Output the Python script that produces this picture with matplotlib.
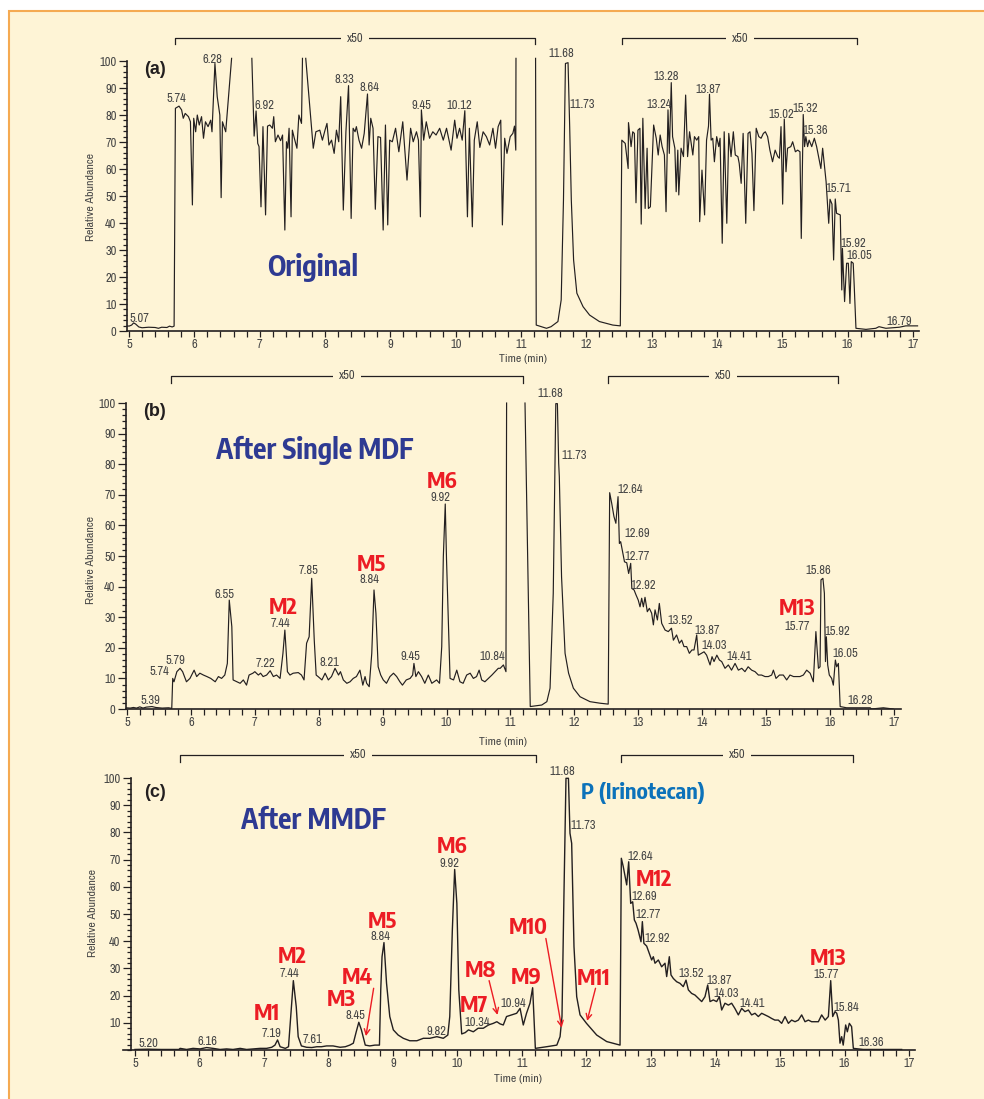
import numpy as np
import matplotlib
matplotlib.use('Agg')
import matplotlib.pyplot as plt
import matplotlib.transforms as mtrans
from matplotlib.ticker import MultipleLocator
from matplotlib.patches import Rectangle

nan = float('nan')

# ---- data (retention time in min, relative abundance as displayed) ----
a_time = [4.98, 5.00, 5.04, 5.07, 5.10, 5.15, 5.20, 5.30, 5.40, 5.45, 5.50, 5.58, 5.62, 5.66, 5.69,
          5.71, 5.765, 5.805, 5.83, 5.86, 5.91, 5.94, 5.97, 5.99, 6.02, 6.045, 6.075, 6.11, 6.14, 6.17, 6.21, 6.25, 6.27,
          6.315, 6.35, 6.39, 6.41, 6.43, 6.48, 6.57, 6.72, 6.88,
          6.915, 6.945, 6.97, 6.99, 7.02, 7.05, 7.09, 7.12, 7.155, 7.195, 7.215, 7.24, 7.28, 7.32, 7.35, 7.385, 7.41, 7.43, 7.45, 7.48,
          7.50, 7.53, 7.57, 7.60, 7.64, 7.655, 7.68, 7.705, 7.82, 7.86, 7.92, 7.96, 8.00, 8.03, 8.06, 8.10, 8.14, 8.175, 8.21,
          8.24, 8.28, 8.32, 8.36, 8.40, 8.43, 8.46, 8.48, 8.52, 8.56, 8.60, 8.65, 8.675, 8.70, 8.735, 8.77, 8.81, 8.85, 8.89, 8.925, 8.96, 8.99,
          9.03, 9.08, 9.13, 9.19, 9.255, 9.31, 9.35, 9.40, 9.43, 9.46, 9.475, 9.51, 9.55, 9.60, 9.65, 9.70, 9.755, 9.81, 9.86, 9.93, 9.985,
          10.02, 10.06, 10.10, 10.14, 10.18, 10.21, 10.255, 10.285, 10.33, 10.37, 10.42, 10.47, 10.52, 10.57, 10.61, 10.65, 10.69, 10.715, 10.75, 10.785, 10.835, 10.875, 10.90, 10.92, 10.923,
          11.07, 11.223, 11.233, 11.31, 11.39, 11.46, 11.565, 11.615, 11.65, 11.68, 11.72, 11.74, 11.745, 11.77, 11.805, 11.855, 11.95, 12.05, 12.20, 12.405, 12.52,
          12.543, 12.595, 12.64, 12.645, 12.685, 12.71, 12.735, 12.76, 12.79, 12.82, 12.84, 12.865, 12.90, 12.93, 12.95, 12.98, 13.03, 13.07, 13.10, 13.13, 13.16, 13.195,
          13.22, 13.25, 13.27, 13.30, 13.32, 13.355, 13.375, 13.40, 13.415, 13.45, 13.487, 13.52, 13.55, 13.58, 13.63, 13.655, 13.69, 13.72, 13.735, 13.77, 13.81, 13.84, 13.87, 13.885,
          13.91, 13.935, 13.96, 13.995, 14.027, 14.047, 14.08, 14.11, 14.15, 14.18, 14.215, 14.25, 14.28, 14.32, 14.34, 14.37, 14.40, 14.44, 14.475, 14.505, 14.535, 14.565, 14.60,
          14.64, 14.675, 14.71, 14.74, 14.775, 14.81, 14.85, 14.89, 14.93, 14.955, 14.98, 15.005, 15.03, 15.056, 15.08, 15.13, 15.158, 15.20, 15.235, 15.27, 15.29, 15.32,
          15.34, 15.36, 15.387, 15.41, 15.45, 15.49, 15.525, 15.565, 15.59, 15.617, 15.67, 15.71, 15.73, 15.76, 15.785, 15.81, 15.83, 15.887, 15.91, 15.92, 15.953, 15.984, 16.01, 16.035, 16.055, 16.085, 16.10, 16.127,
          16.28, 16.43, 16.48, 16.585, 16.69, 16.79, 16.89, 17.07]
a_abund = [1.9, 1.8, 2.2, 3.0, 2.6, 1.5, 1.2, 1.4, 1.3, 1.0, 1.4, 1.3, 1.8, 1.5, 1.8,
           82.5, 83.3, 81.9, 78.8, 80.6, 79.4, 77.5, 46.7, 78.8, 73.8, 80.0, 76.3, 79.4, 71.4, 77.5, 75.7, 78.1, 73.8,
           99.1, 86.8, 80.0, 49.4, 77.5, 73.8, 101, nan, 101,
           72.2, 81.5, 69.5, 68.3, 46.0, 75.7, 43.0, 75.9, 76.3, 75.1, 79.4, 70.1, 72.6, 70.5, 72.6, 37.4, 70.1, 67.7, 75.1, 42.3,
           74.4, 71.4, 67.7, 80.0, 76.9, 101, nan, 101, 67.7, 73.8, 74.4, 70.7, 74.4, 76.9, 68.9, 70.7, 65.8, 74.4, 70.1,
           86.8, 44.8, 73.8, 90.9, 41.7, 75.1, 73.8, 75.7, 70.7, 67.7, 73.2, 87.8, 68.9, 78.8, 75.1, 45.1, 72.0, 71.7, 37.4, 76.3, 39.3, 70.7,
           70.1, 75.1, 66.4, 77.5, 55.9, 75.1, 70.1, 73.8, 70.7, 42.3, 81.9, 70.7, 77.5, 71.4, 73.8, 72.6, 75.1, 70.7, 75.1, 67.0, 78.1,
           71.4, 75.1, 70.7, 81.6, 42.3, 75.1, 38.6, 70.7, 77.5, 68.0, 73.8, 72.0, 68.9, 75.1, 67.7, 75.7, 78.1, 39.3, 71.4, 65.8, 72.0, 73.2, 75.9, 67.0, 101,
           nan, 101, 2.2, 1.6, 1.0, 1.6, 3.5, 11.5, 48.5, 99.1, 99.4, 80.0, 75.7, 48.5, 26.3, 14.0, 9.0, 5.9, 3.5, 2.2, 1.9,
           70.7, 69.5, 60.2, 77.2, 68.3, 73.8, 73.2, 47.5, 74.4, 75.1, 39.6, 78.8, 45.4, 67.7, 45.4, 46.0, 76.3, 71.4, 65.2, 72.6, 68.3, 65.2,
           44.2, 81.9, 65.8, 92.0, 72.0, 67.7, 51.6, 67.0, 50.4, 67.7, 64.6, 87.4, 64.6, 73.8, 65.2, 72.0, 70.7, 72.0, 40.5, 59.6, 43.0, 70.7, 75.9, 87.7,
           70.7, 71.4, 62.7, 72.0, 68.3, 71.4, 32.5, 73.8, 39.9, 73.2, 64.6, 73.8, 65.2, 64.6, 62.1, 54.7, 73.2, 39.9, 73.2, 73.8, 65.8, 44.6, 75.1,
           72.0, 71.4, 73.2, 73.8, 72.0, 67.0, 62.7, 67.0, 64.6, 64.0, 75.7, 47.0, 78.5, 59.0, 67.7, 68.3, 70.1, 66.4, 67.0, 66.4, 34.3, 80.2,
           68.3, 72.0, 68.3, 70.7, 68.3, 71.4, 68.3, 63.3, 60.2, 67.7, 55.3, 39.9, 48.8, 47.0, 26.3, 48.9, 43.6, 43.0, 15.2, 30.6, 10.9, 25.1, 25.1, 10.2, 25.7, 25.1, 17.0, 1.0,
           0.6, 1.0, 1.6, 1.0, 1.2, 1.4, 1.9, 1.9]

b_time = [4.98, 5.05, 5.10, 5.15, 5.20, 5.25, 5.30, 5.39, 5.45, 5.55, 5.65, 5.70,
          5.715, 5.735, 5.78, 5.83, 5.87, 5.93, 5.985, 6.05, 6.09, 6.14, 6.195, 6.25, 6.31, 6.38, 6.43, 6.48, 6.53, 6.57, 6.60, 6.64, 6.66,
          6.72, 6.77, 6.82, 6.87, 6.91, 6.97, 7.00, 7.055, 7.09, 7.13, 7.185, 7.24, 7.29, 7.34, 7.395, 7.44, 7.47, 7.51, 7.55, 7.60, 7.68, 7.73, 7.77,
          7.81, 7.85, 7.89, 7.93, 7.96, 7.99, 8.05, 8.10, 8.15, 8.20, 8.255, 8.31, 8.34, 8.385, 8.44, 8.49, 8.54, 8.59, 8.645, 8.69, 8.725, 8.75, 8.79,
          8.83, 8.865, 8.895, 8.93, 8.97, 9.01, 9.06, 9.115, 9.17, 9.22, 9.27, 9.31, 9.37, 9.43, 9.47, 9.49, 9.52, 9.56, 9.61, 9.66, 9.715, 9.77, 9.845, 9.89,
          9.925, 9.95, 9.98, 10.00, 10.055, 10.11, 10.16, 10.21, 10.26, 10.315, 10.37, 10.42, 10.47, 10.51, 10.55, 10.60, 10.655, 10.71, 10.76, 10.81, 10.84, 10.89, 10.93, 10.94,
          11.08, 11.228, 11.31, 11.385, 11.49, 11.57, 11.62, 11.67, 11.71, 11.735, 11.755, 11.765, 11.80, 11.855, 11.91, 11.985, 12.09, 12.245, 12.40, 12.53,
          12.553, 12.585, 12.62, 12.65, 12.684, 12.705, 12.725, 12.76, 12.785, 12.82, 12.85, 12.882, 12.90, 12.935, 12.965, 13.00, 13.028, 13.054, 13.08, 13.106, 13.142, 13.174, 13.21,
          13.237, 13.263, 13.30, 13.33, 13.367, 13.42, 13.47, 13.52, 13.55, 13.60, 13.644, 13.68, 13.716, 13.758, 13.80, 13.84, 13.873, 13.915, 13.94, 13.99, 14.03, 14.07,
          14.124, 14.155, 14.186, 14.23, 14.27, 14.306, 14.358, 14.41, 14.46, 14.515, 14.567, 14.62, 14.67, 14.72, 14.775, 14.828, 14.88, 14.93, 14.984, 15.036, 15.088, 15.115, 15.156,
          15.21, 15.27, 15.323, 15.375, 15.43, 15.48, 15.53, 15.584, 15.636, 15.69, 15.74, 15.78, 15.82, 15.845, 15.86, 15.89, 15.913, 15.93, 15.944, 15.965, 15.99, 16.027, 16.053, 16.085, 16.106, 16.132, 16.16,
          16.26, 16.63, 16.65, 16.835, 16.99]
b_abund = [0.4, 0.3, 0.5, 0.3, 0.7, 0.3, 0.6, 0.8, 0.5, 0.3, 0.4, 0.2,
           10.0, 8.9, 12.2, 13.3, 12.2, 8.9, 10.0, 12.7, 10.6, 11.7, 11.1, 10.6, 10.0, 8.9, 10.6, 10.0, 11.1, 14.9, 35.6, 26.9, 9.5,
           8.9, 8.4, 9.5, 7.8, 11.1, 11.7, 12.2, 11.1, 11.7, 10.6, 11.1, 12.5, 10.6, 11.1, 10.0, 18.2, 25.8, 12.2, 11.1, 11.7, 11.9, 11.1, 9.5,
           21.5, 23.6, 42.7, 22.5, 11.1, 10.6, 9.5, 11.7, 9.5, 10.6, 13.3, 11.1, 12.2, 9.5, 8.4, 8.9, 10.0, 10.6, 12.7, 7.8, 10.6, 8.4, 7.3,
           18.2, 38.9, 31.3, 13.8, 11.1, 9.5, 8.4, 10.6, 11.7, 10.6, 8.9, 7.8, 9.5, 10.0, 11.1, 14.9, 10.6, 12.2, 10.6, 8.4, 11.1, 8.4, 9.5, 8.4,
           20.4, 49.8, 67.0, 48.7, 10.0, 9.5, 12.7, 8.9, 8.4, 11.1, 11.7, 10.0, 10.6, 12.7, 9.5, 8.9, 10.0, 11.1, 12.2, 13.3, 13.3, 14.4, 12.2, 100,
           nan, 100, 0.8, 1.0, 1.3, 2.4, 6.8, 37.8, 99.8, 99.8, 80.3, 75.9, 43.2, 18.2, 11.7, 6.8, 4.0, 2.4, 1.9, 1.6,
           70.7, 67.2, 62.9, 60.7, 69.4, 54.1, 54.7, 50.9, 48.1, 47.8, 44.3, 47.6, 39.4, 38.9, 37.3, 35.6, 33.4, 36.2, 33.4, 36.5, 31.8, 32.9, 31.3,
           27.5, 32.4, 29.1, 34.5, 28.0, 25.8, 25.3, 26.4, 22.5, 24.2, 21.5, 22.5, 20.4, 20.4, 18.2, 19.3, 19.3, 24.2, 17.6, 18.2, 18.7, 17.6,
           14.4, 17.1, 15.5, 17.6, 16.0, 15.5, 13.3, 14.4, 12.7, 14.9, 12.7, 13.3, 12.2, 13.8, 12.7, 12.2, 11.1, 11.1, 10.6, 10.6, 11.1, 12.7, 10.0,
           11.1, 11.1, 9.5, 11.1, 10.6, 10.6, 10.6, 11.1, 12.7, 11.7, 8.9, 25.3, 13.3, 13.8, 42.2, 42.7, 37.8, 15.5, 23.6, 14.4, 11.1, 10.0, 7.8, 16.0, 13.8, 14.9, 0.8,
           0.4, 0.4, 0.0, 0.4, 0.0]

c_time = [5.00, 5.20, 5.40, 5.60, 5.68, 5.70, 5.80, 5.90, 6.01, 6.11, 6.21, 6.32, 6.42, 6.52, 6.63, 6.73, 6.83, 6.94, 7.04, 7.12, 7.17, 7.21, 7.25,
          7.33, 7.38, 7.41, 7.455, 7.50, 7.53, 7.58, 7.66, 7.74, 7.82, 7.89, 7.97, 8.07, 8.18, 8.26, 8.33, 8.385, 8.43, 8.47, 8.51, 8.57, 8.64, 8.72, 8.79,
          8.81, 8.83, 8.86, 8.90, 8.95, 9.005, 9.08, 9.16, 9.26, 9.37, 9.47, 9.57, 9.68, 9.78, 9.85, 9.88, 9.92, 9.956, 9.99, 10.02, 10.065,
          10.12, 10.17, 10.245, 10.32, 10.40, 10.48, 10.555, 10.61, 10.66, 10.71, 10.76, 10.84, 10.917, 10.97, 11.02, 11.07, 11.124, 11.165, 11.207,
          11.38, 11.54, 11.59, 11.62, 11.65, 11.682, 11.72, 11.744, 11.77, 11.806, 11.848, 11.90, 12.00, 12.158, 12.313, 12.52,
          12.54, 12.57, 12.623, 12.654, 12.685, 12.716, 12.742, 12.768, 12.80, 12.845, 12.866, 12.89, 12.933, 12.974, 13.01, 13.036, 13.062, 13.114, 13.165, 13.217, 13.243, 13.284, 13.31,
          13.346, 13.398, 13.45, 13.50, 13.543, 13.579, 13.63, 13.682, 13.734, 13.786, 13.837, 13.879, 13.915, 13.966, 14.018, 14.06, 14.096, 14.147, 14.20, 14.25, 14.30,
          14.354, 14.406, 14.457, 14.51, 14.56, 14.612, 14.664, 14.716, 14.767, 14.82, 14.87, 14.92, 14.974, 15.026, 15.078, 15.13, 15.18, 15.233, 15.285, 15.336, 15.388, 15.44, 15.49,
          15.543, 15.595, 15.646, 15.70, 15.75, 15.786, 15.817, 15.853, 15.88, 15.905, 15.93, 15.956, 15.98, 16.018, 16.044, 16.075, 16.11, 16.137, 16.29, 16.55, 16.886]
c_abund = [0.2, 0.3, 0.2, 0.2, 0.2, 0.6, 0.2, 0.6, 0.4, 0.9, 0.6, 0.2, 0.4, 0.2, 0.6, 0.2, 0.4, 0.6, 0.6, 1.0, 1.8, 3.7, 1.2,
           0.6, 1.2, 11.0, 25.5, 15.9, 4.9, 1.5, 1.0, 0.9, 1.2, 1.2, 1.5, 1.5, 1.0, 1.2, 1.8, 2.5, 6.7, 10.2, 7.4, 1.8, 1.5, 1.8, 1.8,
           22.1, 34.3, 39.5, 24.5, 12.3, 7.4, 5.5, 4.3, 3.4, 3.4, 4.3, 4.3, 4.9, 4.3, 5.5, 12.3, 44.1, 66.4, 53.9, 22.1, 5.9,
           6.4, 7.4, 6.7, 8.0, 8.0, 9.2, 9.8, 10.4, 9.6, 9.2, 12.3, 12.9, 13.5, 15.3, 9.2, 13.5, 17.2, 22.9, 0.6,
           1.2, 1.8, 4.9, 12.3, 56.4, 99.9, 99.9, 79.7, 76.0, 38.0, 19.6, 12.9, 9.8, 5.5, 3.1, 1.8,
           70.5, 67.4, 60.7, 69.2, 53.9, 54.5, 47.8, 46.6, 44.1, 39.8, 47.2, 39.2, 38.2, 35.5, 33.1, 34.3, 31.9, 33.1, 30.6, 31.9, 27.0, 34.3, 27.6,
           26.3, 25.1, 24.5, 23.3, 25.7, 22.1, 20.8, 20.2, 19.0, 17.8, 19.6, 23.9, 17.8, 18.4, 17.8, 19.6, 14.7, 17.2, 16.5, 17.2, 15.3,
           12.9, 15.3, 14.1, 14.7, 12.9, 13.5, 12.3, 13.5, 12.9, 12.3, 11.6, 11.0, 11.0, 9.8, 12.3, 9.8, 11.0, 10.4, 11.0, 12.9, 10.4, 11.0, 10.4,
           10.4, 10.4, 12.9, 11.0, 12.3, 25.5, 12.3, 14.1, 13.5, 11.0, 2.5, 4.9, 1.8, 9.2, 6.7, 9.8, 8.6, 0.6, 0.2, 0.2, 0.2]

# x50 magnified windows
a_zoom = [(5.70, 11.22), (12.55, 16.15)]
b_zoom = [(5.69, 11.19), (12.53, 16.125)]
c_zoom = [(5.70, 11.22), (12.53, 16.13)]

# peak labels: text, x, y
a_labels = [('5.07', 5.16, 4.7), ('5.74', 5.72, 86), ('6.28', 6.28, 100.6), ('6.92', 7.07, 83.6),
            ('8.33', 8.30, 93.2), ('8.64', 8.685, 90.2), ('9.45', 9.475, 83.6), ('10.12', 10.06, 83.6),
            ('11.68', 11.62, 102.8), ('11.73', 11.93, 84), ('13.28', 13.22, 94.4), ('13.24', 13.12, 84),
            ('13.87', 13.87, 89.5), ('15.02', 14.99, 80.2), ('15.32', 15.35, 82.5), ('15.36', 15.51, 74.4),
            ('15.71', 15.86, 52.8), ('15.92', 16.09, 32.5), ('16.05', 16.18, 27.8), ('16.79', 16.79, 3.7)]
b_labels = [('5.39', 5.37, 2.9), ('5.74', 5.50, 12.2), ('5.79', 5.75, 16), ('6.55', 6.53, 37.5),
            ('7.22', 7.17, 14.9), ('7.44', 7.40, 28), ('7.85', 7.84, 45.4), ('8.21', 8.17, 15.3),
            ('8.84', 8.79, 42.2), ('9.45', 9.43, 17.3), ('9.92', 9.90, 69), ('10.84', 10.71, 17.1),
            ('11.68', 11.63, 103), ('11.73', 12.0, 82.7), ('12.64', 12.87, 71.6), ('12.69', 12.98, 57.4),
            ('12.77', 12.99, 50), ('12.92', 13.08, 40.5), ('13.52', 13.65, 28.8), ('13.87', 14.08, 25.5),
            ('14.03', 14.19, 20.7), ('14.41', 14.58, 17.3), ('15.77', 15.49, 27.1), ('15.86', 15.82, 45.4),
            ('15.92', 16.12, 25.2), ('16.05', 16.24, 18), ('16.28', 16.47, 2.9)]
c_labels = [('5.20', 5.21, 2.5), ('6.16', 6.12, 3.3), ('7.19', 7.12, 6.1), ('7.44', 7.40, 28.2),
            ('7.61', 7.75, 3.9), ('8.45', 8.41, 12.6), ('8.84', 8.80, 41.7), ('9.82', 9.68, 6.7),
            ('9.92', 9.88, 68.6), ('10.34', 10.31, 10.2), ('10.94', 10.86, 17.2), ('11.68', 11.62, 102.5),
            ('11.73', 11.95, 82.4), ('12.64', 12.83, 71), ('12.69', 12.90, 56.6), ('12.77', 12.95, 50),
            ('12.92', 13.10, 41), ('13.52', 13.63, 28.2), ('13.87', 14.05, 25.7), ('14.03', 14.16, 20.8),
            ('14.41', 14.57, 17.2), ('15.77', 15.71, 27.9), ('15.84', 16.02, 15.7), ('16.36', 16.42, 2.8)]
b_metab = [('M2', 7.45, 32.9), ('M5', 8.82, 47), ('M6', 9.93, 74.3), ('M13', 15.48, 32.6)]
c_metab = [('M1', 7.04, 13.1), ('M2', 7.44, 34.3), ('M3', 8.20, 18.4), ('M4', 8.45, 26.3),
           ('M5', 8.83, 47.2), ('M6', 9.92, 74.8), ('M7', 10.26, 16.2), ('M8', 10.36, 29.2),
           ('M9', 11.06, 26.3), ('M10', 11.10, 44.7), ('M11', 12.11, 26), ('M12', 13.05, 62.5),
           ('M13', 15.74, 33.5)]
# arrows for hidden metabolites (c): start -> end
c_arrows = [((8.70, 22.7), (8.58, 5.1)), ((10.49, 25.5), (10.62, 12.9)),
            ((11.37, 41.0), (11.615, 8.2)), ((12.14, 22.7), (12.01, 10.7))]

CREAM = '#FEF4D6'
INK = '#231F20'
GREY = '#454545'
RED = '#EC1C24'
BLUE = '#2E3A92'
LBLUE = '#0C72BA'
NARROW = ['Archivo Narrow', 'DejaVu Sans']
BOLDC = ['Encode Sans Condensed', 'DejaVu Sans']
HELV = ['Liberation Sans', 'DejaVu Sans']

plt.rcParams['font.family'] = NARROW

fig = plt.figure(figsize=(9.84, 10.99), dpi=100)
fig.patch.set_facecolor('white')
bg = Rectangle((9 / 984, -0.01), 1.0, 1.01 - 11 / 1099, transform=fig.transFigure,
               facecolor=CREAM, edgecolor='#F5AA52', lw=1.5, zorder=-10)
fig.patches.append(bg)


def setup(ax, xlim, ylim, yticks):
    ax.set_xlim(xlim)
    ax.set_ylim(ylim)
    ax.patch.set_visible(False)
    for s in ['top', 'right']:
        ax.spines[s].set_visible(False)
    for s in ['left', 'bottom']:
        ax.spines[s].set_linewidth(1.2)
        ax.spines[s].set_color(INK)
    ax.spines['left'].set_bounds(0, 100)
    ax.xaxis.set_major_locator(MultipleLocator(1))
    ax.xaxis.set_minor_locator(MultipleLocator(0.2))
    ax.set_yticks(yticks)
    ax.yaxis.set_minor_locator(MultipleLocator(2))
    ax.tick_params(axis='x', which='both', direction='out', length=4, width=0.9, color=INK,
                   labelsize=9, labelcolor=GREY, pad=2)
    ax.tick_params(axis='y', which='major', direction='out', length=6, width=0.9, color=INK,
                   labelsize=9, labelcolor=GREY, pad=1.5)
    ax.tick_params(axis='y', which='minor', direction='out', length=3, width=0.9, color=INK)


def bracket(ax, zones, yb, drop, weight='normal'):
    tr = mtrans.blended_transform_factory(ax.transData, ax.transAxes)
    for x0, x1 in zones:
        ax.plot([x0, x0, x1, x1], [yb - drop, yb, yb, yb - drop], transform=tr,
                clip_on=False, color=INK, lw=0.9)
        ax.text((x0 + x1) / 2, yb, 'x50', transform=tr, ha='center', va='center',
                fontsize=9, color=GREY, fontweight=weight,
                bbox=dict(fc=CREAM, ec='none', pad=4))


def labels(ax, items, size=9, color=GREY, weight='normal', family=None):
    for txt, x, y in items:
        ax.text(x, y, txt, ha='center', va='center', fontsize=size, color=color,
                fontweight=weight, family=family or NARROW, clip_on=False)


def frame_text(ax, letter, lx, ly, title, tx, ty):
    ax.text(lx, ly, letter, transform=ax.transAxes, ha='center', va='center',
            fontsize=13, fontweight='bold', color=INK, family=HELV)
    ax.text(tx, ty, title, transform=ax.transAxes, ha='center', va='center',
            fontsize=20, fontweight='bold', color=BLUE, family=BOLDC)


def axis_titles(ax, yx, yy, tx, ty):
    ax.text(yx, yy, 'Relative Abundance', transform=ax.transAxes, rotation=90,
            ha='center', va='center', fontsize=8.5, color=GREY)
    ax.text(tx, ty, 'Time (min)', transform=ax.transAxes, ha='center', va='center',
            fontsize=8.5, color=GREY)


# ---- (a) ----
axa = fig.add_axes([127 / 984, 1 - 331 / 1099, 792 / 984, 274 / 1099])
setup(axa, (4.969, 17.092), (0, 101.5), range(0, 101, 10))
axa.plot(a_time, a_abund, color=INK, lw=0.85)
bracket(axa, a_zoom, 1.069, 0.022)
labels(axa, a_labels)
frame_text(axa, '(a)', 0.035, 0.956, 'Original', 0.235, 0.23)
axis_titles(axa, -0.0455, 0.49, 0.5, -0.102)

# ---- (b) ----
axb = fig.add_axes([126 / 984, 1 - 709 / 1099, 775 / 984, 307.5 / 1099])
setup(axb, (4.984, 17.112), (0, 100.5), range(0, 101, 10))
axb.plot(b_time, b_abund, color=INK, lw=0.85)
bracket(axb, b_zoom, 1.083, 0.022)
labels(axb, b_labels)
labels(axb, b_metab, size=16, color=RED, weight='bold', family=BOLDC)
frame_text(axb, '(b)', 0.037, 0.966, 'After Single MDF', 0.243, 0.842)
axis_titles(axb, -0.045, 0.485, 0.486, -0.107)

# ---- (c) ----
axc = fig.add_axes([123 / 984, 1 - 1050 / 1099, 792 / 984, 274.7 / 1099])
setup(axc, (4.814, 17.093), (0, 101), range(10, 101, 10))
axc.spines['left'].set_position(('data', 4.938))
axc.plot(c_time, c_abund, color=INK, lw=1.0)
bracket(axc, c_zoom, 1.074, 0.026, weight='bold')
labels(axc, c_labels)
labels(axc, c_metab, size=16, color=RED, weight='bold', family=BOLDC)
for (x0, y0), (x1, y1) in c_arrows:
    axc.annotate('', xy=(x1, y1), xytext=(x0, y0),
                 arrowprops=dict(arrowstyle='->', color=RED, lw=1.0, shrinkA=0, shrinkB=0,
                                 mutation_scale=10))
frame_text(axc, '(c)', 0.040, 0.939, 'After MMDF', 0.24, 0.837)
axc.text(12.88, 94.6, 'P (Irinotecan)', ha='center', va='center',
         fontsize=16, fontweight='bold', color=LBLUE, family=BOLDC)
axis_titles(axc, -0.038, 0.50, 0.499, -0.106)

fig.savefig('out.png', dpi=100, facecolor=fig.get_facecolor())
